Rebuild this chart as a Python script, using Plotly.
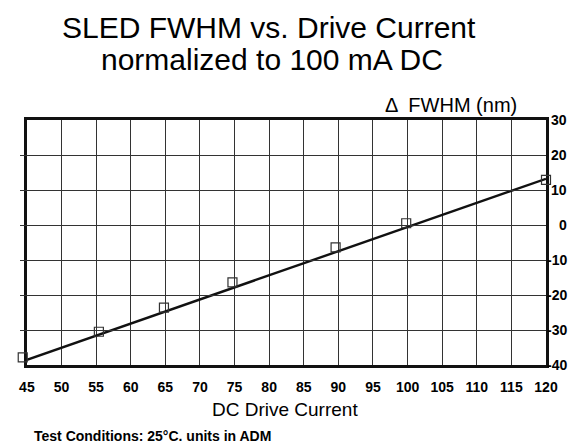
import plotly.graph_objects as go

# Data
drive_current = [44.4, 55.4, 64.8, 74.7, 89.6, 99.8, 120.0]
delta_fwhm = [-37.8, -30.5, -23.6, -16.4, -6.4, 0.5, 12.9]
fit_current = [45, 120]
fit_fwhm = [-38.5, 13.2]
x_ticks = list(range(45, 121, 5))
y_ticks = list(range(-40, 31, 10))
y_tick_text = [str(v) for v in y_ticks]

FONT = "Liberation Sans, Arial, sans-serif"

# geometry in figure pixels (page shows the figure shifted by an 8px body margin)
W, H = 577, 447
OFF = 8
ML, MR, MT, MB = 4, 39, 112, 90
plot_w = W - ML - MR
plot_h = H - MT - MB
main_left_px = 7
d0 = main_left_px / plot_w
x_min, x_max = 45, 120
# wider invisible axis for the markers so the point just left of 45 is still drawn
x2_min = x_min - main_left_px * (x_max - x_min) / (plot_w - main_left_px)


def pxx(page_x):
    return (page_x - OFF - ML) / plot_w


def pxy(page_y):
    return 1 - (page_y - OFF - MT) / plot_h


fig = go.Figure()
fig.add_trace(go.Scatter(
    x=fit_current, y=fit_fwhm, mode="lines",
    line=dict(color="#111", width=2.4), showlegend=False, hoverinfo="skip",
))
fig.add_trace(go.Scatter(
    x=drive_current, y=delta_fwhm, mode="markers", xaxis="x2", yaxis="y",
    marker=dict(symbol="square-open", size=9, color="#333", line=dict(width=1.2)),
    cliponaxis=False, showlegend=False,
))

annotations = [
    dict(text="SLED FWHM vs. Drive Current", x=pxx(265), y=pxy(28),
         xanchor="center", yanchor="middle", font=dict(size=30)),
    dict(text="normalized to 100 mA DC", x=pxx(268), y=pxy(59),
         xanchor="center", yanchor="middle", font=dict(size=30)),
    dict(text="\u0394  FWHM (nm)", x=pxx(519), y=pxy(105),
         xanchor="right", yanchor="middle", font=dict(size=20)),
    dict(text="DC Drive Current", x=pxx(281), y=pxy(409),
         xanchor="center", yanchor="middle", font=dict(size=19)),
    dict(text="<b>Test Conditions: 25\u00b0C. units in ADM</b>", x=pxx(24), y=pxy(436),
         xanchor="left", yanchor="middle", font=dict(size=14)),
]
# right-aligned y tick labels placed through the y scale
for v, t in zip(y_ticks, y_tick_text):
    annotations.append(dict(text=f"<b>{t}</b>", x=pxx(569), y=v, yref="y",
                            xanchor="right", yanchor="middle",
                            font=dict(size=14)))
for a in annotations:
    a.setdefault("xref", "paper")
    a.setdefault("yref", "paper")
    a["showarrow"] = False
    a["font"].update(family=FONT, color="#000")

fig.update_layout(
    width=W, height=H,
    margin=dict(l=ML, r=MR, t=MT, b=MB),
    paper_bgcolor="white", plot_bgcolor="rgba(0,0,0,0)",
    font=dict(family=FONT, color="#000"),
    xaxis=dict(
        domain=[d0, 1],
        range=[x_min, x_max], tickvals=x_ticks,
        ticktext=[f"<b>{v}</b>" for v in x_ticks],
        showgrid=True, gridcolor="#333", gridwidth=1.3,
        showline=True, linecolor="#111", linewidth=3, mirror=True,
        ticks="outside", ticklen=7, tickcolor="rgba(0,0,0,0)",
        tickfont=dict(size=14, family=FONT, color="#000"),
        zeroline=False,
    ),
    xaxis2=dict(
        domain=[0, 1], anchor="y", range=[x2_min, x_max], visible=False,
        showgrid=False, zeroline=False,
    ),
    yaxis=dict(
        range=[-40, 30], tickvals=y_ticks, showticklabels=False,
        side="right", anchor="x",
        showgrid=True, gridcolor="#333", gridwidth=1.3,
        showline=True, linecolor="#111", linewidth=3, mirror=True,
        ticks="", zeroline=False,
    ),
    annotations=annotations,
)

fig.write_html("out.html")
